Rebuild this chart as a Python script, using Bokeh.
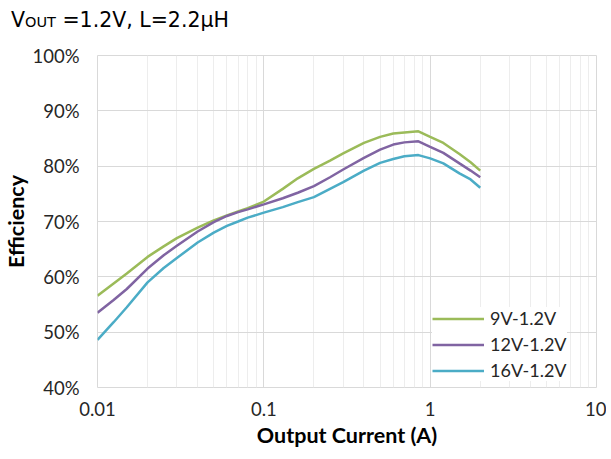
from bokeh.plotting import figure
from bokeh.models import (Range1d, FixedTicker, NumeralTickFormatter, CustomJSTickFormatter,
                          Legend, LegendItem, Div)
from bokeh.layouts import column
from bokeh.embed import file_html
from bokeh.resources import INLINE

# ---- data ----
current = [0.01, 0.0125, 0.015, 0.02, 0.025, 0.03, 0.04, 0.05, 0.06, 0.07, 0.08, 0.1,
           0.13, 0.16, 0.2, 0.25, 0.3, 0.4, 0.5, 0.6, 0.7, 0.85, 1.0, 1.2, 1.5, 1.75, 2.0]
eff_9v = [56.6, 58.8, 60.6, 63.6, 65.5, 67.0, 68.9, 70.2, 71.1, 71.8, 72.4, 73.6,
          75.9, 77.8, 79.5, 81.0, 82.3, 84.2, 85.3, 85.9, 86.1, 86.3, 85.3, 84.2, 82.2, 80.7, 79.2]
eff_12v = [53.5, 55.8, 57.8, 61.5, 63.9, 65.6, 68.2, 69.9, 71.0, 71.7, 72.2, 73.1,
           74.2, 75.2, 76.4, 78.0, 79.4, 81.5, 83.0, 83.9, 84.3, 84.5, 83.5, 82.4, 80.5, 79.2, 78.0]
eff_16v = [48.6, 51.8, 54.5, 59.0, 61.6, 63.4, 66.2, 68.0, 69.2, 70.0, 70.7, 71.6,
           72.6, 73.5, 74.4, 75.9, 77.1, 79.2, 80.6, 81.3, 81.8, 82.0, 81.4, 80.5, 78.7, 77.6, 76.1]
series_names = ["9V-1.2V", "12V-1.2V", "16V-1.2V"]
series_colors = ["#9BBB59", "#8064A2", "#4BACC6"]
y_ticks = [0.4, 0.5, 0.6, 0.7, 0.8, 0.9, 1.0]
x_ticks = [0.01, 0.1, 1, 10]
x_minor = [m * d for d in (0.01, 0.1, 1) for m in range(2, 10)]

FONT = "Lato"
W = 606
DIV_H = 36
FIG_H = 452 - DIV_H

title_html = ('<div style="font-family:\'DejaVu Sans\'; font-size:20.5px; line-height:20px; '
              'color:#000000; white-space:nowrap; margin-left:11px; margin-top:10px;">'
              'V<span style="font-size:14.5px;">OUT</span> =1.2V, L=2.2\u00b5H</div>')
title_div = Div(text=title_html, width=W, height=DIV_H, margin=0)

p = figure(width=W, height=FIG_H, output_backend="svg", toolbar_location=None,
           x_axis_type="log", x_range=Range1d(0.01, 10), y_range=Range1d(0.4, 1.0),
           min_border_left=96, min_border_right=10, min_border_top=55 - DIV_H,
           min_border_bottom=65, margin=0)
p.background_fill_color = "white"
p.border_fill_color = "white"
p.outline_line_color = "#D9D9D9"
p.outline_line_width = 1

renderers = []
for vals, color in zip([eff_9v, eff_12v, eff_16v], series_colors):
    r = p.line(current, [v / 100.0 for v in vals], line_color=color, line_width=2.5)
    renderers.append(r)

# axes
p.yaxis.ticker = FixedTicker(ticks=y_ticks)
p.yaxis.formatter = NumeralTickFormatter(format="0%")
p.xaxis.ticker = FixedTicker(ticks=x_ticks, minor_ticks=x_minor)
p.xaxis.formatter = CustomJSTickFormatter(code="return String(tick);")
for ax in (p.xaxis[0], p.yaxis[0]):
    ax.axis_line_color = None
    ax.major_tick_line_color = None
    ax.minor_tick_line_color = None
    ax.major_label_text_font = FONT
    ax.major_label_text_font_size = "18.5px"
    ax.major_label_text_color = "#262626"
    ax.axis_label_text_font = FONT
    ax.axis_label_text_font_style = "bold"
    ax.axis_label_text_font_size = "21.5px"
    ax.axis_label_text_color = "#000000"
p.xaxis.axis_label = "Output Current (A)"
p.yaxis.axis_label = "Efficiency"
p.xaxis.major_label_standoff = 8
p.xaxis.axis_label_standoff = 3
p.yaxis.major_tick_out = 0
p.yaxis.minor_tick_out = 0
p.yaxis.major_label_standoff = 18
p.yaxis.axis_label_standoff = 0

# grids
p.ygrid.grid_line_color = "#D9D9D9"
p.ygrid.grid_line_width = 1
p.xgrid.grid_line_color = "#D9D9D9"
p.xgrid.grid_line_width = 1
p.xgrid.minor_grid_line_color = "#EDEDED"
p.xgrid.minor_grid_line_width = 1

# legend
items = [LegendItem(label=n, renderers=[r]) for n, r in zip(series_names, renderers)]
legend = Legend(items=items, location=(335, 6))
legend.background_fill_color = "white"
legend.background_fill_alpha = 1.0
legend.border_line_color = None
legend.label_text_font = FONT
legend.label_text_font_size = "18px"
legend.label_text_color = "#262626"
legend.glyph_width = 52
legend.glyph_height = 21
legend.label_height = 21
legend.label_standoff = 6
legend.spacing = 4
legend.padding = 4
legend.margin = 0
p.add_layout(legend, "center")

layout = column(title_div, p, spacing=0, margin=0)

open("out.html", "w").write(file_html(layout, INLINE))
